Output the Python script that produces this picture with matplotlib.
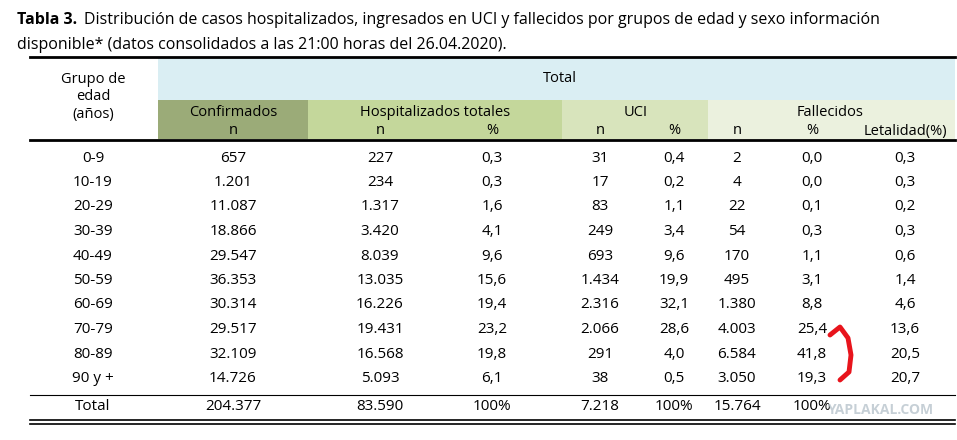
import matplotlib
matplotlib.use("Agg")
import matplotlib.pyplot as plt
from matplotlib.patches import Rectangle

plt.rcParams['font.family'] = ['Open Sans', 'DejaVu Sans']

ages = ["0-9", "10-19", "20-29", "30-39", "40-49", "50-59", "60-69", "70-79", "80-89", "90 y +"]
confirmados = ["657", "1.201", "11.087", "18.866", "29.547", "36.353", "30.314", "29.517", "32.109", "14.726"]
hosp_n = ["227", "234", "1.317", "3.420", "8.039", "13.035", "16.226", "19.431", "16.568", "5.093"]
hosp_pct = ["0,3", "0,3", "1,6", "4,1", "9,6", "15,6", "19,4", "23,2", "19,8", "6,1"]
uci_n = ["31", "17", "83", "249", "693", "1.434", "2.316", "2.066", "291", "38"]
uci_pct = ["0,4", "0,2", "1,1", "3,4", "9,6", "19,9", "32,1", "28,6", "4,0", "0,5"]
fall_n = ["2", "4", "22", "54", "170", "495", "1.380", "4.003", "6.584", "3.050"]
fall_pct = ["0,0", "0,0", "0,1", "0,3", "1,1", "3,1", "8,8", "25,4", "41,8", "19,3"]
letal = ["0,3", "0,3", "0,2", "0,3", "0,6", "1,4", "4,6", "13,6", "20,5", "20,7"]
total_row = ["Total", "204.377", "83.590", "100%", "7.218", "100%", "15.764", "100%", ""]

fig = plt.figure(figsize=(9.57, 4.4), dpi=100)
ax = fig.add_axes([0, 0, 1, 1])
ax.set_xlim(0, 957); ax.set_ylim(440, 0); ax.axis('off')

fs = 11
tfs = 11.5
ax.text(17, 20, "Tabla 3.", fontsize=tfs, fontweight='bold', va='center')
ax.text(84, 20, "Distribución de casos hospitalizados, ingresados en UCI y fallecidos por grupos de edad y sexo información",
        fontsize=tfs, va='center')
ax.text(17, 45, "disponible* (datos consolidados a las 21:00 horas del 26.04.2020).", fontsize=tfs, va='center')

# header backgrounds
ax.add_patch(Rectangle((158, 58), 797, 42, color='#DAEEF3', lw=0))
ax.add_patch(Rectangle((158, 100), 150, 39, color='#9BAB78', lw=0))
ax.add_patch(Rectangle((308, 100), 254, 39, color='#C4D79B', lw=0))
ax.add_patch(Rectangle((562, 100), 146, 39, color='#D8E4BC', lw=0))
ax.add_patch(Rectangle((708, 100), 247, 39, color='#EBF1DE', lw=0))

ax.plot([30, 955], [57, 57], color='black', lw=2)
ax.plot([30, 955], [140, 140], color='black', lw=2)
ax.plot([30, 955], [395, 395], color='black', lw=0.8)
ax.plot([30, 955], [420, 420], color='black', lw=1.2)
ax.plot([30, 955], [424, 424], color='black', lw=1.2)

hs = 10.5
ax.text(93, 97, "Grupo de\nedad\n(años)", fontsize=hs, ha='center', va='center', linespacing=1.25)
ax.text(560, 79, "Total", fontsize=hs, ha='center', va='center')
ax.text(233, 113, "Confirmados", fontsize=hs, ha='center', va='center')
ax.text(435, 113, "Hospitalizados totales", fontsize=hs, ha='center', va='center')
ax.text(636, 113, "UCI", fontsize=hs, ha='center', va='center')
ax.text(830, 113, "Fallecidos", fontsize=hs, ha='center', va='center')

col_x = [93, 233, 380, 492, 600, 674, 737, 812, 905]
sub = ["n", "n", "%", "n", "%", "n", "%", "Letalidad(%)"]
for x, s in zip(col_x[1:], sub):
    ax.text(x, 131, s, fontsize=hs, ha='center', va='center')

cols = [ages, confirmados, hosp_n, hosp_pct, uci_n, uci_pct, fall_n, fall_pct, letal]
for i in range(len(ages)):
    y = 158 + i * 24.5
    for x, col in zip(col_x, cols):
        ax.text(x, y, col[i], fontsize=fs, ha='center', va='center')
for x, s in zip(col_x, total_row):
    ax.text(x, 407, s, fontsize=fs, ha='center', va='center')

# red hand-drawn bracket
ax.plot([830, 840, 848, 851, 849, 840], [335, 327, 338, 355, 372, 380], color='#E8141C', lw=3.5, solid_capstyle='round')
ax.text(880, 410, "YAPLAKAL.COM", fontsize=10, fontweight='bold', color='#B8C4CC', ha='center', va='center', alpha=0.8)

fig.savefig("out.png", dpi=100)
